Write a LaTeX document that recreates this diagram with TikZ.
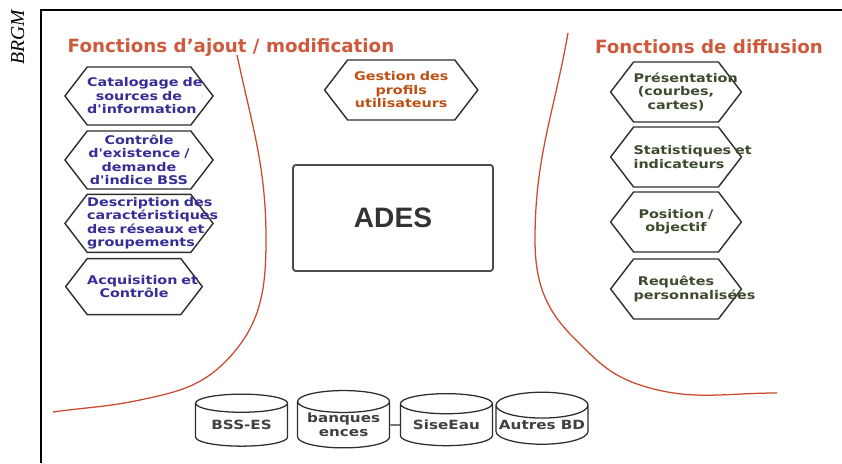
\documentclass[tikz,border=0pt]{standalone}
\usepackage{fontspec}
\setmainfont{DejaVu Sans}
\newfontfamily\hexfont[FakeStretch=1.2]{DejaVu Sans}
\newfontfamily\adesfont{Liberation Sans}
\newfontfamily\brgmfont{Liberation Serif}
\usetikzlibrary{shapes.symbols,shapes.geometric}
\definecolor{rouge}{RGB}{200,75,45}
\definecolor{titre}{RGB}{205,90,60}
\definecolor{bleu}{RGB}{55,45,150}
\definecolor{orange}{RGB}{190,80,20}
\definecolor{vert}{RGB}{60,75,45}
\definecolor{trait}{RGB}{45,45,45}
\begin{document}
\begin{tikzpicture}
        \tikzstyle{hexa}=[signal,signal to=east and west,signal pointer angle=105,draw=trait,line width=1pt,inner xsep=0pt,inner ysep=0pt,align=center,font=\hexfont\bfseries\fontsize{8.5}{9.6}\selectfont]
        \tikzstyle{base}=[cylinder,shape border rotate=90,aspect=0.3,draw=trait,line width=0.9pt,minimum width=2.3cm,minimum height=1.3cm,inner sep=0pt,align=center,text=black!75,font=\hexfont\bfseries\fontsize{9}{10}\selectfont]
        \tikzstyle{titre}=[text=titre,font=\bfseries\fontsize{13}{15}\selectfont]
        \useasboundingbox (0,0) rectangle (21.05,11.575);
        % cadre
        \draw[line width=0.9pt] (1.025,0) -- (1.025,11.325) -- (21.05,11.325);
        \node[rotate=90,font=\brgmfont\itshape\fontsize{14}{16}\selectfont] (brgm) at (0.44,10.64) {BRGM};
        % titres
        \node[titre] (ajout) at (5.775,10.375) {Fonctions d'ajout / modification};
        \node[titre] (diff) at (17.725,10.4) {Fonctions de diffusion};
        % frontieres
        \draw[rouge,line width=0.9pt] (5.925,10.2) to[out=-78,in=90] (6.65,5.6) to[out=-90,in=46] (5.675,2.575)
            to[out=226,in=12] (3.5,1.575) to[out=192,in=8] (1.325,1.275);
        \draw[rouge,line width=0.9pt] (14.2,10.75) to[out=-100,in=90] (13.375,5.6) to[out=-90,in=135] (14.325,3.15)
            to[out=-45,in=162] (16.0,1.95) to[out=-18,in=180] (19.425,1.75);
        % ajout / modification
        \node[hexa,text=bleu,text width=2.59cm,minimum height=1.45cm] (cat) at (3.475,9.175) {Catalogage~de\\sources~de\\d'information};
        \node[hexa,text=bleu,text width=2.59cm,minimum height=1.45cm] (ctrl) at (3.475,7.575) {Contrôle\\d'existence~/\\demande\\d'indice~BSS};
        \node[hexa,text=bleu,text width=2.59cm,minimum height=1.45cm] (desc) at (3.475,5.99) {Description~des\\caractéristiques\\des~réseaux~et\\groupements};
        \node[hexa,text=bleu,text width=2.34cm,minimum height=1.4cm] (acq) at (3.35,4.41) {Acquisition~et\\Contrôle};
        \node[hexa,text=orange,text width=2.68cm,minimum height=1.5cm] (gest) at (10.03,9.325) {Gestion~des\\profils\\utilisateurs};
        % ADES
        \node[draw=black!70,line width=1.3pt,rounded corners=2pt,minimum width=5cm,minimum height=2.65cm,text=black!80,font=\adesfont\bfseries\fontsize{20}{24}\selectfont] (ades) at (9.825,6.125) {ADES};
        % diffusion
        \node[hexa,text=vert,text width=2.12cm,minimum height=1.5cm] (pres) at (16.9,9.275) {Présentation\\(courbes,\\cartes)};
        \node[hexa,text=vert,text width=2.12cm,minimum height=1.5cm] (stat) at (16.9,7.65) {Statistiques~et\\indicateurs};
        \node[hexa,text=vert,text width=2.12cm,minimum height=1.5cm] (pos) at (16.9,6.025) {Position~/\\objectif};
        \node[hexa,text=vert,text width=2.12cm,minimum height=1.5cm] (req) at (16.9,4.35) {Requêtes\\personnalisées};
        % bases
        \node[base] (bss) at (6.04,0.95) {BSS-ES};
        \node[base] (banq) at (8.59,0.95) {banques\\ences};
        \node[base] (sise) at (11.16,0.95) {SiseEau};
        \node[base] (autres) at (13.55,0.95) {Autres~BD};
        \draw[trait,line width=0.9pt] (banq) -- (sise);
    \end{tikzpicture}
\end{document}
